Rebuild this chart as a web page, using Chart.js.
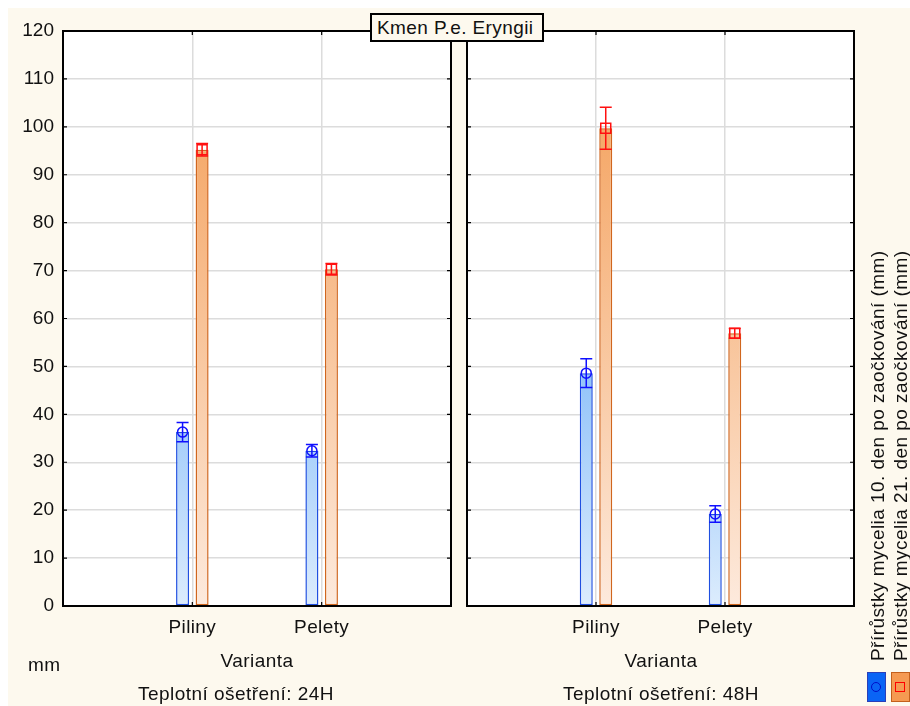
<!DOCTYPE html>
<html><head><meta charset="utf-8">
<script src="https://cdn.jsdelivr.net/npm/chart.js@4.4.1/dist/chart.umd.min.js"></script>
<style>
body{margin:0;background:#fff;width:910px;height:706px;overflow:hidden;position:relative;font-family:"Liberation Sans",Arial,sans-serif;}
#bg{position:absolute;left:8px;top:8px;width:902px;height:698px;background:#fdf9ee;}
canvas{position:absolute;top:0}
.t{position:absolute;font-size:19px;line-height:19px;letter-spacing:0.45px;color:#111;white-space:nowrap}
.c{transform:translateX(-50%)}
.r{transform-origin:0 0;transform:rotate(-90deg)}
#title{position:absolute;left:370px;top:13px;width:174px;height:29px;box-sizing:border-box;border:2px solid #000;background:#fdf9ee;font-size:19px;line-height:19px;letter-spacing:0.4px;padding:3px 0 0 5px;color:#111;white-space:nowrap}
.lg{position:absolute;top:672px;width:19px;height:30px;box-sizing:border-box}
</style></head><body>
<div id="bg"></div>
<canvas id="c1" width="460" height="706" style="left:0"></canvas>
<canvas id="c2" width="450" height="706" style="left:460px"></canvas>
<div id="title">Kmen P.e. Eryngii</div>
<div class="t" style="left:28px;top:655px">mm</div>
<div class="t c" id="xt1" style="left:257px;top:651px"></div>
<div class="t c" id="xt2" style="left:661px;top:651px"></div>
<div class="t c" id="p1" style="left:236px;top:684px"></div>
<div class="t c" id="p2" style="left:661px;top:684px"></div>
<div class="t r" id="lg1" style="left:868px;top:661px"></div>
<div class="t r" id="lg2" style="left:891px;top:661px"></div>
<div class="lg" style="left:867px;background:#0a64f5;border:1.5px solid #2a3fb8">
  <div style="position:absolute;left:3px;top:9px;width:10px;height:10px;box-sizing:border-box;border:1.5px solid #0010c8;border-radius:50%"></div>
</div>
<div class="lg" style="left:891px;background:#f59a52;border:1.5px solid #c4601c">
  <div style="position:absolute;left:3px;top:9px;width:10px;height:10px;box-sizing:border-box;border:1.5px solid #ff0000"></div>
</div>
<script>
// ---- data ----
const categories = ['Piliny', 'Pelety'];
const axisTitle = 'Varianta';
const panelTitles = ['Teplotní ošetření: 24H', 'Teplotní ošetření: 48H'];
const seriesNames = ['Přírůstky mycelia 10. den po zaočkování (mm)', 'Přírůstky mycelia 21. den po zaočkování (mm)'];
const day10_24H = [36.3, 32.4];
const day21_24H = [95.2, 70.3];
const day10_48H = [48.6, 19.2];
const day21_48H = [99.7, 56.9];
const err10_24H = [2.0, 1.3];
const err21_24H = [1.3, 1.2];
const err10_48H = [3.0, 1.7];
const err21_48H = [4.4, 1.0];
const yMin = 0, yMax = 120, yStep = 10;

document.getElementById('xt1').textContent = axisTitle;
document.getElementById('xt2').textContent = axisTitle;
document.getElementById('p1').textContent = panelTitles[0];
document.getElementById('p2').textContent = panelTitles[1];
document.getElementById('lg1').textContent = seriesNames[0];
document.getElementById('lg2').textContent = seriesNames[1];

const FONT = "'Liberation Sans', Arial, sans-serif";
const pad = a => [null, ...a, null];
const labels = ['', ...categories, ''];

function grad(stops, fallback) {
  return (ctx) => {
    const ca = ctx.chart.chartArea;
    if (!ca) return fallback;
    const g = ctx.chart.ctx.createLinearGradient(0, ca.top, 0, ca.bottom);
    stops.forEach(s => g.addColorStop(s[0], s[1]));
    return g;
  };
}
const blueFill = grad([[0, '#5fa3f6'], [0.6, '#93c4f9'], [1, '#dcecfd']], '#93c4f9');
const orangeFill = grad([[0, '#f39c58'], [0.2, '#f5aa6c'], [1, '#fdeadd']], '#f7b988');

const decor = {
  id: 'decor',
  beforeDraw(chart) {
    const {ctx, chartArea: a} = chart;
    ctx.save();
    ctx.fillStyle = '#ffffff';
    ctx.fillRect(a.left, a.top, a.right - a.left, a.bottom - a.top);
    ctx.restore();
  },
  afterDatasetsDraw(chart) {
    const {ctx} = chart;
    const ys = chart.scales.y;
    chart.data.datasets.forEach((ds, di) => {
      const meta = chart.getDatasetMeta(di);
      ctx.save();
      ctx.strokeStyle = ds.markerColor;
      ctx.lineWidth = 1.5;
      ds.data.forEach((v, i) => {
        if (v == null) return;
        const el = meta.data[i];
        const x = el.x;
        const yc = ys.getPixelForValue(v);
        const yt = ys.getPixelForValue(v + ds.errors[i]);
        const yb = ys.getPixelForValue(v - ds.errors[i]);
        ctx.beginPath();
        ctx.moveTo(x, yt); ctx.lineTo(x, yb);
        ctx.moveTo(x - 6, yt); ctx.lineTo(x + 6, yt);
        ctx.moveTo(x - 6, yb); ctx.lineTo(x + 6, yb);
        ctx.stroke();
        ctx.beginPath();
        if (ds.marker === 'circle') {
          ctx.arc(x, yc, 5, 0, Math.PI * 2);
        } else {
          ctx.rect(x - 5, yc - 5, 10, 10);
        }
        ctx.stroke();
      });
      ctx.restore();
    });
  },
  afterDraw(chart) {
    const {ctx} = chart;
    const a = chart.chartArea;
    const xs = chart.scales.x, ys = chart.scales.y;
    ctx.save();
    ctx.strokeStyle = '#000';
    ctx.lineWidth = 1.2;
    ctx.beginPath();
    for (let v = yMin + yStep; v < yMax; v += yStep) {
      const y = ys.getPixelForValue(v);
      ctx.moveTo(a.left, y); ctx.lineTo(a.left + 4, y);
      ctx.moveTo(a.right, y); ctx.lineTo(a.right - 4, y);
    }
    for (let i = 1; i <= categories.length; i++) {
      const x = xs.getPixelForValue(i);
      ctx.moveTo(x, a.top); ctx.lineTo(x, a.top + 4);
      ctx.moveTo(x, a.bottom); ctx.lineTo(x, a.bottom - 4);
    }
    ctx.stroke();
    ctx.lineWidth = 2;
    ctx.strokeRect(a.left, a.top, a.right - a.left, a.bottom - a.top);
    // category labels from the x scale
    ctx.fillStyle = '#111';
    ctx.font = '19px ' + FONT;
    ctx.textAlign = 'center';
    ctx.textBaseline = 'alphabetic';
    try { ctx.letterSpacing = '0.4px'; } catch (e) {}
    categories.forEach((c, i) => {
      ctx.fillText(c, xs.getPixelForValue(i + 1), a.bottom + 27);
    });
    ctx.restore();
  }
};

function makeChart(id, d10, d21, e10, e21, showY, yWidth, padL, padR, target) {
  const state = { yWidth: yWidth };
  const chart = new Chart(document.getElementById(id), {
    type: 'bar',
    data: {
      labels: labels,
      datasets: [
        { label: seriesNames[0], data: pad(d10), errors: pad(e10), marker: 'circle', markerColor: '#1010ff',
          backgroundColor: blueFill, borderColor: '#1f4fe0', borderWidth: 1.5, borderSkipped: false },
        { label: seriesNames[1], data: pad(d21), errors: pad(e21), marker: 'square', markerColor: '#ff1010',
          backgroundColor: orangeFill, borderColor: '#d0661e', borderWidth: 1.5, borderSkipped: false }
      ]
    },
    options: {
      responsive: false,
      animation: false,
      events: [],
      layout: { padding: { top: 31, right: padR, left: padL, bottom: 0 } },
      datasets: { bar: { categoryPercentage: 0.302, barPercentage: 0.667 } },
      plugins: { legend: { display: false }, tooltip: { enabled: false } },
      scales: {
        x: {
          offset: false,
          grid: { color: '#dcdcdc', lineWidth: 1.5, drawTicks: false, offset: false },
          border: { display: false },
          ticks: { display: false },
          afterFit: s => { s.height = 100; }
        },
        y: {
          min: yMin, max: yMax,
          grid: { color: '#dcdcdc', lineWidth: 1.5, drawTicks: false },
          border: { display: false },
          ticks: { display: showY, stepSize: yStep, font: { family: FONT, size: 19 }, color: '#111', padding: 9 },
          afterFit: s => { s.width = state.yWidth; }
        }
      }
    },
    plugins: [decor]
  });
  // fine-tune so the plot area sits exactly where the reference has it
  const a = chart.chartArea;
  const dl = target.left - a.left, dr = a.right - target.right;
  const p = chart.options.layout.padding;
  if (dl !== 0) {
    if (p.left + dl >= 0) p.left += dl; else state.yWidth = Math.max(0, state.yWidth + dl);
  }
  if (dr !== 0) p.right = Math.max(0, p.right + dr);
  if (dl !== 0 || dr !== 0) chart.update();
  return chart;
}

makeChart('c1', day10_24H, day21_24H, err10_24H, err21_24H, true, 63, 0, 9, { left: 63, right: 451 });
makeChart('c2', day10_48H, day21_48H, err10_48H, err21_48H, false, 7, 0, 56, { left: 7, right: 394 });
</script>
</body></html>
